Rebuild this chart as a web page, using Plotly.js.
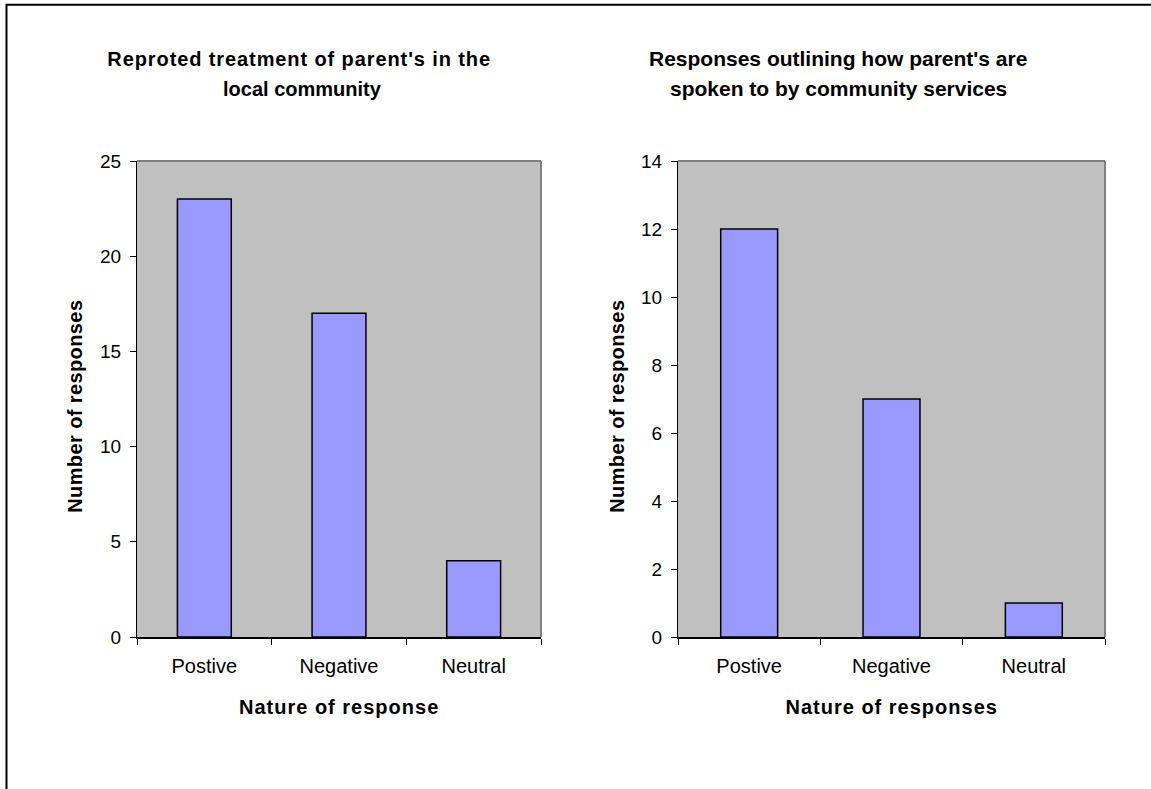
<!DOCTYPE html>
<html>
<head>
<meta charset="utf-8">
<script src="https://cdn.plot.ly/plotly-3.0.1.min.js"></script>
<style>
  html, body { margin: 0; padding: 0; background: #ffffff; overflow: hidden; }
  #chart { width: 1151px; height: 789px; }
  /* wider tracking on a few of the bold labels */
  g.annotation[data-index="0"] text { letter-spacing: 0.9px; }
  g.annotation[data-index="4"] text,
  g.annotation[data-index="5"] text { letter-spacing: 0.4px; }
  g.annotation[data-index="6"] text,
  g.annotation[data-index="7"] text { letter-spacing: 1px; }
</style>
</head>
<body>
<div id="chart"></div>
<script>
// Survey responses about how parents are treated
const categories = ["Postive", "Negative", "Neutral"];
const communityTreatment = [23, 17, 4];
const servicesTone = [12, 7, 1];

const W = 1151, H = 789;
const px = v => v / W;           // horizontal pixel -> paper fraction
const py = v => (H - v) / H;     // vertical pixel (from top) -> paper fraction

const FONT = "Liberation Sans, Arial, Helvetica, sans-serif";
const barColor = "#9999FF";

const bars = (vals, xa, ya) => ({
  type: "bar",
  x: categories,
  y: vals,
  xaxis: xa,
  yaxis: ya,
  marker: { color: barColor, line: { color: "#000000", width: 1.5 } },
  hoverinfo: "x+y",
  showlegend: false
});

const catAxis = (domain, anchor) => ({
  domain: domain,
  anchor: anchor,
  type: "category",
  showgrid: false,
  zeroline: false,
  showline: true,
  linecolor: "#000000",
  linewidth: 1.5,
  ticks: "outside",
  tickson: "boundaries",
  ticklen: 6,
  tickwidth: 1,
  tickcolor: "#000000",
  ticklabelstandoff: 10,
  tickfont: { family: FONT, size: 20, color: "#000000" },
  automargin: false,
  fixedrange: true
});

const valAxis = (domain, anchor, maxV, step) => ({
  domain: domain,
  anchor: anchor,
  range: [0, maxV],
  dtick: step,
  tick0: 0,
  showgrid: false,
  zeroline: false,
  showline: true,
  linecolor: "#000000",
  linewidth: 1,
  ticks: "outside",
  ticklen: 6,
  tickwidth: 1,
  tickcolor: "#000000",
  ticklabelstandoff: 5,
  tickfont: { family: FONT, size: 19, color: "#000000" },
  automargin: false,
  fixedrange: true
});

const yDomain = [py(637), py(161)];

const boldFont = size => ({ family: FONT, size: size, weight: "bold", color: "#000000" });

const label = (text, x, y, size, angle) => ({
  text: text,
  x: px(x),
  y: py(y),
  xref: "paper",
  yref: "paper",
  xanchor: "center",
  yanchor: "middle",
  textangle: angle || 0,
  showarrow: false,
  font: boldFont(size)
});

const layout = {
  width: W,
  height: H,
  margin: { l: 0, r: 0, t: 0, b: 0, pad: 0 },
  paper_bgcolor: "#ffffff",
  plot_bgcolor: "#C0C0C0",
  bargap: 0.6,
  font: { family: FONT, color: "#000000" },
  xaxis: catAxis([px(137), px(541)], "y"),
  yaxis: valAxis(yDomain, "x", 25, 5),
  xaxis2: catAxis([px(678), px(1105)], "y2"),
  yaxis2: valAxis(yDomain, "x2", 14, 2),
  shapes: [
    // grey frame on top and right of each plot area
    { type: "line", xref: "x domain", yref: "y domain", x0: 0, x1: 1, y0: 1, y1: 1, line: { color: "#808080", width: 2 } },
    { type: "line", xref: "x domain", yref: "y domain", x0: 1, x1: 1, y0: 0, y1: 1, line: { color: "#808080", width: 2 } },
    { type: "line", xref: "x2 domain", yref: "y2 domain", x0: 0, x1: 1, y0: 1, y1: 1, line: { color: "#808080", width: 2 } },
    { type: "line", xref: "x2 domain", yref: "y2 domain", x0: 1, x1: 1, y0: 0, y1: 1, line: { color: "#808080", width: 2 } },
    // outer chart border
    { type: "rect", xref: "paper", yref: "paper", x0: px(6.5), x1: 1.05, y0: -0.05, y1: py(4.8), line: { color: "#000000", width: 2 }, fillcolor: "rgba(0,0,0,0)" }
  ],
  annotations: [
    label("Reproted treatment of parent's in the", 299, 59, 20),
    label("local community", 302, 89, 20),
    label("Responses outlining how parent's are", 838, 58, 21),
    label("spoken to by community services", 838, 88, 21),
    label("Number of responses", 75, 406, 20, -90),
    label("Number of responses", 617, 406, 20, -90),
    label("Nature of response", 339, 707, 20),
    label("Nature of responses", 891, 707, 20)
  ]
};

Plotly.newPlot("chart", [
  bars(communityTreatment, "x", "y"),
  bars(servicesTone, "x2", "y2")
], layout, { staticPlot: true, displayModeBar: false });
</script>
</body>
</html>
